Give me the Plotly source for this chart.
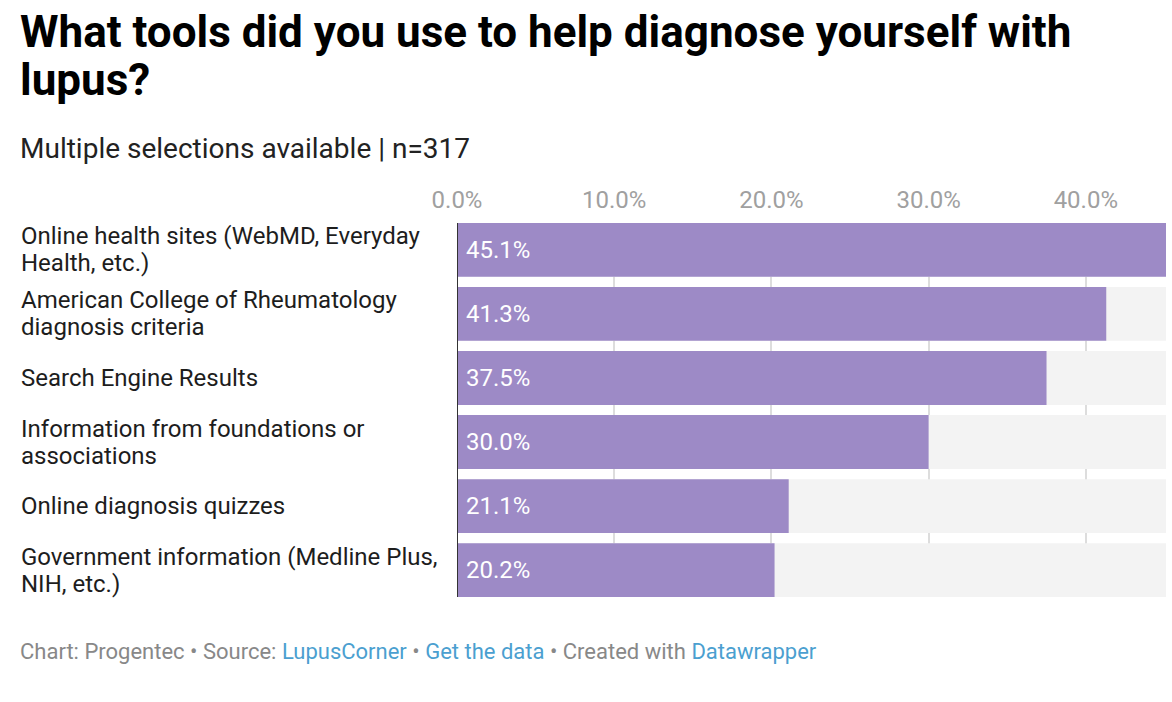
import plotly.graph_objects as go

categories = [
    "Online health sites (WebMD, Everyday<br>Health, etc.)",
    "American College of Rheumatology<br>diagnosis criteria",
    "Search Engine Results",
    "Information from foundations or<br>associations",
    "Online diagnosis quizzes",
    "Government information (Medline Plus,<br>NIH, etc.)",
]
values = [45.1, 41.3, 37.5, 30.0, 21.1, 20.2]
tick_vals = [0, 10, 20, 30, 40]
tick_text = ["0.0%", "10.0%", "20.0%", "30.0%", "40.0%"]
title_lines = ["What tools did you use to help diagnose yourself with", "lupus?"]
subtitle = "Multiple selections available | n=317"

W, H = 1172, 702
L, R, T, B = 457, 6, 223, 105
plot_w = W - L - R
plot_h = H - T - B

PURPLE = "#9d8ac6"
BG = "#f3f3f3"
FONT = "Roboto"
LINK = "#4b9fd0"
LABEL_LINE = 27


def px_x(px):
    return (px - L) / plot_w


def px_y(py):
    return (H - B - py) / plot_h


idx = list(range(len(categories)))
vmax = max(values)

fig = go.Figure()
fig.add_trace(go.Bar(
    y=idx, x=[vmax] * len(values), orientation="h",
    marker=dict(color=BG, line=dict(width=0)), width=0.84,
    hoverinfo="skip", showlegend=False,
))
fig.add_trace(go.Bar(
    y=idx, x=values, orientation="h",
    marker=dict(color=PURPLE, line=dict(width=0)), width=0.84,
    showlegend=False,
))
fig.update_layout(barmode="overlay")

annotations = []
for i, (c, v) in enumerate(zip(categories, values)):
    lines = c.split("<br>")
    n = len(lines)
    for k, line in enumerate(lines):
        annotations.append(dict(
            xref="paper", yref="y", x=px_x(19), y=i,
            yshift=((n - 1) / 2 - k) * LABEL_LINE,
            text=line, showarrow=False, xanchor="left", yanchor="middle", align="left",
            font=dict(family=FONT, size=24, color="#1d1d1d"),
        ))
    annotations.append(dict(
        xref="x", yref="y", x=0, y=i, xshift=7,
        text=f"{v:.1f}%", showarrow=False, xanchor="left", yanchor="middle",
        font=dict(family=FONT, size=24, color="white"),
    ))

title_tops = [4, 52]
for line, top in zip(title_lines, title_tops):
    annotations.append(dict(
        xref="paper", yref="paper", x=px_x(18), y=px_y(top),
        text=line, showarrow=False, xanchor="left", yanchor="top", align="left",
        font=dict(family=FONT, size=44, color="#000000", weight="bold"),
    ))
annotations.append(dict(
    xref="paper", yref="paper", x=px_x(18), y=px_y(130),
    text=subtitle,
    showarrow=False, xanchor="left", yanchor="top", align="left",
    font=dict(family=FONT, size=28, color="#222222"),
))
annotations.append(dict(
    xref="paper", yref="paper", x=px_x(18), y=px_y(637),
    text=(f"Chart: Progentec • Source: <span style='color:{LINK}'>LupusCorner</span> • "
          f"<span style='color:{LINK}'>Get the data</span> • Created with "
          f"<span style='color:{LINK}'>Datawrapper</span>"),
    showarrow=False, xanchor="left", yanchor="top", align="left",
    font=dict(family=FONT, size=22, color="#888888"),
))

fig.update_layout(
    width=W, height=H,
    margin=dict(l=L, r=R, t=T, b=B, pad=0),
    paper_bgcolor="white", plot_bgcolor="white",
    font=dict(family=FONT),
    annotations=annotations,
    xaxis=dict(
        range=[0, vmax], side="top", tickvals=tick_vals, ticktext=tick_text,
        showgrid=True, gridcolor="#dddddd", gridwidth=1.5, zeroline=False,
        tickfont=dict(family=FONT, size=24, color="#a0a0a0"),
        ticks="", showline=False, fixedrange=True, ticklabelstandoff=9,
    ),
    yaxis=dict(
        range=[len(values) - 1 + 0.42, -0.42], showticklabels=False,
        showgrid=False, zeroline=False, showline=False, ticks="", fixedrange=True,
    ),
    shapes=[dict(type="line", xref="x", yref="paper", x0=0, x1=0, y0=0, y1=1,
                 line=dict(color="#333333", width=2), layer="above")],
)

fig.write_html("out.html", config={"displayModeBar": False},
               post_script="document.body.style.margin='0';")
